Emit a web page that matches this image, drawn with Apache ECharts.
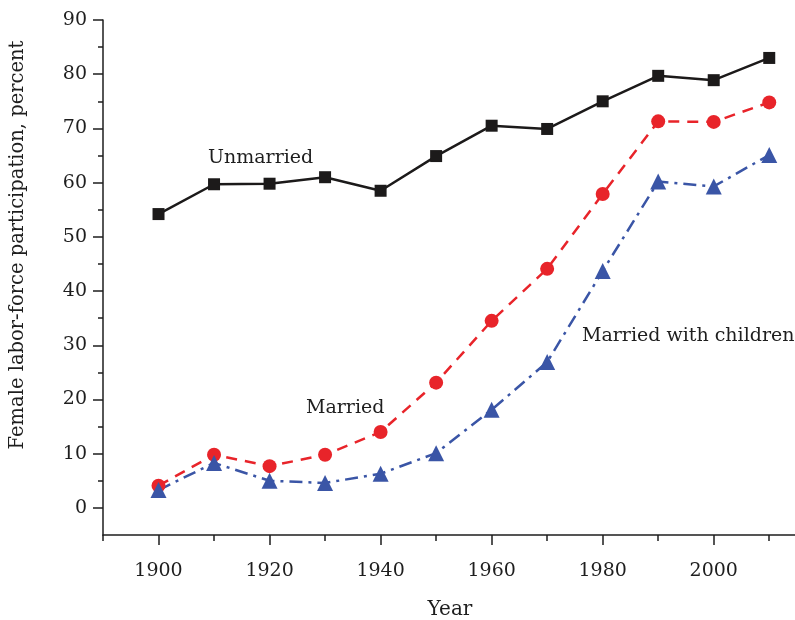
<!DOCTYPE html>
<html>
<head>
<meta charset="utf-8">
<script src="https://cdn.jsdelivr.net/npm/echarts@6/dist/echarts.min.js"></script>
<style>
  html, body { margin: 0; padding: 0; background: #fff; }
  #chart { width: 795px; height: 620px; }
</style>
</head>
<body>
<div id="chart"></div>
<script>
var years = [1900, 1910, 1920, 1930, 1940, 1950, 1960, 1970, 1980, 1990, 2000, 2010];
var unmarried = [54.2, 59.7, 59.8, 61.0, 58.5, 64.9, 70.5, 69.9, 75.0, 79.7, 78.9, 83.0];
var married = [4.1, 9.8, 7.7, 9.8, 14.0, 23.1, 34.5, 44.1, 57.9, 71.3, 71.2, 74.8];
var marriedKids = [3.3, 8.3, 5.0, 4.6, 6.3, 10.1, 18.1, 26.9, 43.7, 60.2, 59.3, 65.1];

var xMajor = [1900, 1920, 1940, 1960, 1980, 2000];
var xMinor = [1890, 1910, 1930, 1950, 1970, 1990, 2010];
var yMajor = [0, 10, 20, 30, 40, 50, 60, 70, 80, 90];
var yMinor = [5, 15, 25, 35, 45, 55, 65, 75, 85];

var font = 'DejaVu Serif';
var ink = '#1e1e1e';

function pairs(vals) {
    return years.map(function (y, i) { return [y, vals[i]]; });
}

var chart = echarts.init(document.getElementById('chart'));
chart.setOption({
    animation: false,
    grid: { left: 103, top: 20, width: 694, bottom: 85, containLabel: false, outerBoundsMode: 'none' },
    xAxis: [{
        type: 'value', min: 1890, max: 2015,
        axisLine: { onZero: false, lineStyle: { color: ink, width: 1.5 } },
        axisTick: { customValues: xMajor, length: 10, lineStyle: { color: ink, width: 1.5 } },
        axisLabel: {
            customValues: xMajor, margin: 27, color: ink, fontFamily: font, fontSize: 19,
            formatter: function (v) { return String(v); }
        },
        splitLine: { show: false },
        name: 'Year', nameLocation: 'middle', nameGap: 65,
        nameTextStyle: { color: ink, fontFamily: font, fontSize: 20 }
    }, {
        type: 'value', min: 1890, max: 2015, position: 'bottom',
        axisLine: { show: false, onZero: false },
        axisTick: { customValues: xMinor, length: 6, lineStyle: { color: ink, width: 1.5 } },
        axisLabel: { show: false },
        splitLine: { show: false }
    }],
    yAxis: [{
        type: 'value', min: -5, max: 90,
        axisLine: { show: true, onZero: false, lineStyle: { color: ink, width: 1.5 } },
        axisTick: { show: true, customValues: yMajor, length: 10, lineStyle: { color: ink, width: 1.5 } },
        axisLabel: { customValues: yMajor, margin: 16, color: ink, fontFamily: font, fontSize: 19 },
        splitLine: { show: false }
    }, {
        type: 'value', min: -5, max: 90, position: 'left',
        axisLine: { show: false, onZero: false },
        axisTick: { show: true, customValues: yMinor, length: 5, lineStyle: { color: ink, width: 1.5 } },
        axisLabel: { show: false },
        splitLine: { show: false }
    }],
    graphic: [
        { type: 'text', left: 208, top: 149, style: { text: 'Unmarried', fill: ink, font: '19px "' + font + '"' } },
        { type: 'text', left: 306, top: 399, style: { text: 'Married', fill: ink, font: '19px "' + font + '"' } },
        { type: 'text', left: 582, top: 327, style: { text: 'Married with children', fill: ink, font: '19px "' + font + '"' } },
        { type: 'text', x: 8, y: 245, rotation: Math.PI / 2,
          style: { text: 'Female labor-force participation, percent', fill: ink,
                   font: '19.5px "' + font + '"', align: 'center', verticalAlign: 'top' } }
    ],
    series: [{
        type: 'line', data: pairs(unmarried),
        symbol: 'rect', symbolSize: 12,
        itemStyle: { color: '#1c1a1a' },
        lineStyle: { color: '#1c1a1a', width: 2.5 }
    }, {
        type: 'line', data: pairs(married),
        symbol: 'circle', symbolSize: 14,
        itemStyle: { color: '#e8242a' },
        lineStyle: { color: '#e8242a', width: 2.5, type: [11, 8] }
    }, {
        type: 'line', data: pairs(marriedKids),
        symbol: 'triangle', symbolSize: 16,
        itemStyle: { color: '#3a55a6' },
        lineStyle: { color: '#3a55a6', width: 2.5, type: [13, 6, 3, 6] }
    }]
});
</script>
</body>
</html>
